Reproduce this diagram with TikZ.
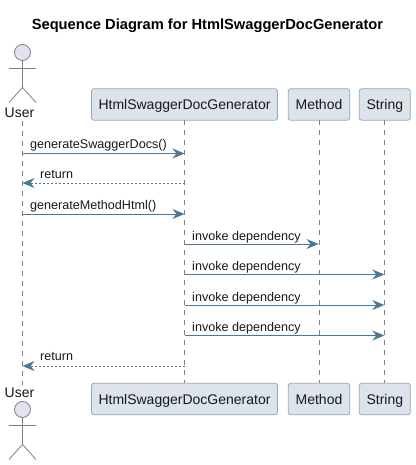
\documentclass[tikz,border=0pt]{standalone}
\usepackage{fontspec}
\setmainfont{Liberation Sans}
\usetikzlibrary{arrows.meta}
\definecolor{boxfill}{HTML}{DDE3EA}
\definecolor{boxline}{HTML}{8FAABE}
\definecolor{arrowc}{HTML}{4A7896}
\definecolor{lifec}{HTML}{808080}
\definecolor{actorfill}{HTML}{E2E2F0}
\tikzset{
  x=1pt,y=-1pt,
  partbox/.style={draw=boxline,fill=boxfill,line width=0.8pt,rounded corners=2.5pt,minimum height=31.5pt,inner sep=0pt,outer sep=0pt,text height=11pt,text depth=0pt,font=\fontsize{14}{16}\selectfont,text=black!90},
  lifeline/.style={draw=lifec,line width=0.7pt,dash pattern=on 5pt off 5pt},
  msg/.style={draw=arrowc,line width=0.9pt,-{Stealth[length=12pt,width=10pt,inset=4pt,fill=arrowc]}},
  retmsg/.style={msg,dash pattern=on 2pt off 2pt},
  lbl/.style={font=\fontsize{12.6}{14}\selectfont,text=black!90,inner sep=0pt,anchor=base west},
  actorline/.style={draw=lifec,line width=0.8pt},
  actorhead/.style={circle,draw=lifec,fill=actorfill,line width=0.8pt,minimum size=16pt,inner sep=0pt,outer sep=0pt},
  actorname/.style={font=\fontsize{14}{16}\selectfont,text=black!90,inner sep=0pt},
}
\newcommand{\stickman}[3]{%
  \node[actorhead] (#3) at (#1,#2) {};
  \draw[actorline] (#3.south) -- ++(0,27) (#1-13.5,#2+16) -- (#1+13.5,#2+16)
    (#1-13.5,#2+50) -- (#1,#2+35) -- (#1+13.5,#2+50);
}
\begin{document}
\begin{tikzpicture}
\useasboundingbox[fill=white] (0,0) rectangle (415,465);
\node[font=\fontsize{14.67}{16}\selectfont\bfseries,inner sep=0pt] (title) at (207.5,25.5) {Sequence Diagram for HtmlSwaggerDocGenerator};

\coordinate (usertopend) at (22.5,121); \coordinate (userbotend) at (22.5,385);
\node[partbox,minimum width=186pt] (ht) at (184.5,104.5) {HtmlSwaggerDocGenerator};
\node[partbox,minimum width=61.5pt] (mt) at (319,104.5) {Method};
\node[partbox,minimum width=51pt] (st) at (384.8,104.5) {String};
\node[partbox,minimum width=186pt] (hb) at (184.5,399) {HtmlSwaggerDocGenerator};
\node[partbox,minimum width=61.5pt] (mb) at (319,399) {Method};
\node[partbox,minimum width=51pt] (sb) at (384.8,399) {String};

\draw[lifeline] (usertopend) -- (userbotend);
\draw[lifeline] (ht.south) -- (hb.north);
\draw[lifeline] (mt.south) -- (mb.north);
\draw[lifeline] (st.south) -- (sb.north);

\stickman{22.5}{52.5}{headtop}
\node[actorname] (usertop) at (19.5,113) {User};
\node[actorname] (userbot) at (19.5,393) {User};
\stickman{22.5}{409.5}{headbot}

\foreach \n/\y in {a/153.5,b/183,c/214,d/244,e/274.5,f/305,g/335.5,h/366}{
  \coordinate (u\n) at (22.5,\y);
  \coordinate (h\n) at (184.5,\y);
  \coordinate (m\n) at (318.5,\y);
  \coordinate (s\n) at (384.3,\y);
}
\draw[msg] (ua) -- (ha);
\draw[retmsg] (hb) -- (ub);
\draw[msg] (uc) -- (hc);
\draw[msg] (hd) -- (md);
\draw[msg] (he) -- (se);
\draw[msg] (hf) -- (sf);
\draw[msg] (hg) -- (sg);
\draw[retmsg] (hh) -- (uh);

\node[lbl] (la) at (30,149) {generateSwaggerDocs()};
\node[lbl] (lb) at (40,178.7) {return};
\node[lbl] (lc) at (30,209.5) {generateMethodHtml()};
\node[lbl] (ld) at (192,240) {invoke dependency};
\node[lbl] (le) at (192,270) {invoke dependency};
\node[lbl] (lf) at (192,301) {invoke dependency};
\node[lbl] (lg) at (192,331) {invoke dependency};
\node[lbl] (lh) at (40,360.7) {return};
\end{tikzpicture}
\end{document}
